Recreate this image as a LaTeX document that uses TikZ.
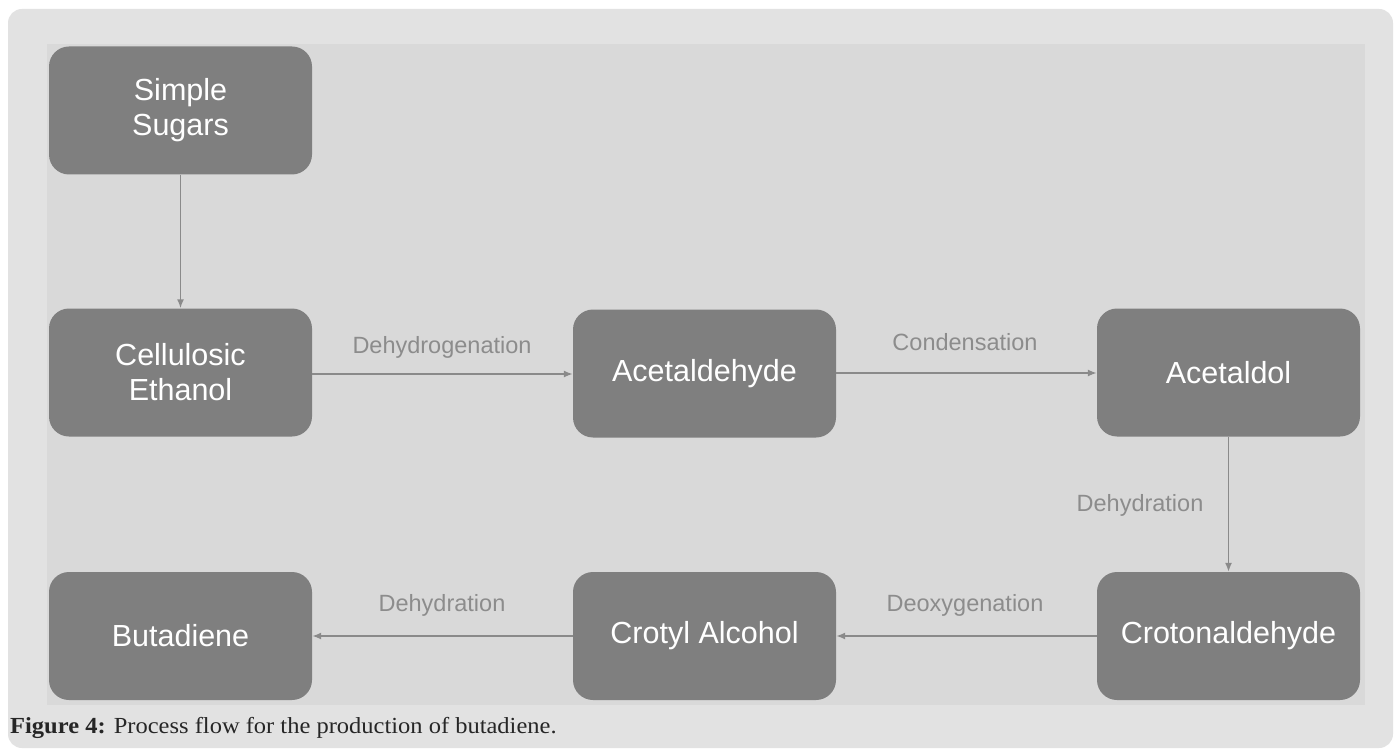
\documentclass[tikz,border=0pt]{standalone}
\usepackage{fontspec}
\setmainfont{Liberation Sans}
\newfontfamily\capfont[FakeStretch=1.065]{Liberation Serif}
\usepackage{tikz}
\usetikzlibrary{arrows.meta}
\definecolor{panelgray}{HTML}{E2E2E2}
\definecolor{innergray}{HTML}{D9D9D9}
\definecolor{boxgray}{HTML}{7F7F7F}
\definecolor{linegray}{HTML}{8A8A8A}
\definecolor{labelgray}{HTML}{8C8C8C}

\begin{document}
\begin{tikzpicture}[x=1pt,y=-1pt,>={Latex[length=9pt,width=7pt]}]
	\tikzstyle{stage}=[rectangle,rounded corners=20pt,fill=boxgray,text=white,minimum width=263pt,minimum height=128pt,inner sep=0pt,align=center,font=\fontsize{30.5}{35}\selectfont]
	\tikzstyle{flow}=[->,draw=linegray,line width=1.5pt]
	\tikzstyle{step label}=[text=labelgray,inner sep=0pt,font=\fontsize{23.5}{27}\selectfont]
	\useasboundingbox (0,0) rectangle (1394,751);
	\fill[white] (0,0) rectangle (1394,751);
	\fill[panelgray,rounded corners=14pt] (8,9) rectangle (1393,748);
	\fill[innergray] (47,44) rectangle (1365,705);
%	stages
	\node[stage](sugars) at (180.5,110.5){Simple\\Sugars};
	\node[stage](ethanol) at (180.5,372.5){Cellulosic\\Ethanol};
	\node[stage](acetaldehyde) at (704.5,373.5){Acetaldehyde};
	\node[stage](acetaldol) at (1228.5,372.5){Acetaldol};
	\node[stage](croton) at (1228.5,636){Crotonaldehyde};
	\node[stage](crotyl) at (704.5,636){Crotyl Alcohol};
	\node[stage](butadiene) at (180.5,636){Butadiene};
%	reaction names
	\node[step label](l-1) at (442,347){Dehydrogenation};
	\node[step label](l-2) at (965,342){Condensation};
	\node[step label](l-3) at (1140,505){Dehydration};
	\node[step label](l-4) at (965,605){Deoxygenation};
	\node[step label](l-5) at (442,605){Dehydration};
%	arrows
	\draw[flow] (sugars) -- (ethanol);
	\draw[flow] (ethanol.east |- 0,374) -- (acetaldehyde.west |- 0,374);
	\draw[flow] (acetaldehyde.east |- 0,373) -- (acetaldol.west |- 0,373);
	\draw[flow] (acetaldol) -- (croton);
	\draw[flow] (croton) -- (crotyl);
	\draw[flow] (crotyl) -- (butadiene);
%	caption
	\node[anchor=base west,inner sep=0pt,text=black!85,font=\capfont\fontsize{23}{27}\selectfont](caption) at (10,733){\textbf{Figure 4:} Process flow for the production of butadiene.};
\end{tikzpicture}
\end{document}
